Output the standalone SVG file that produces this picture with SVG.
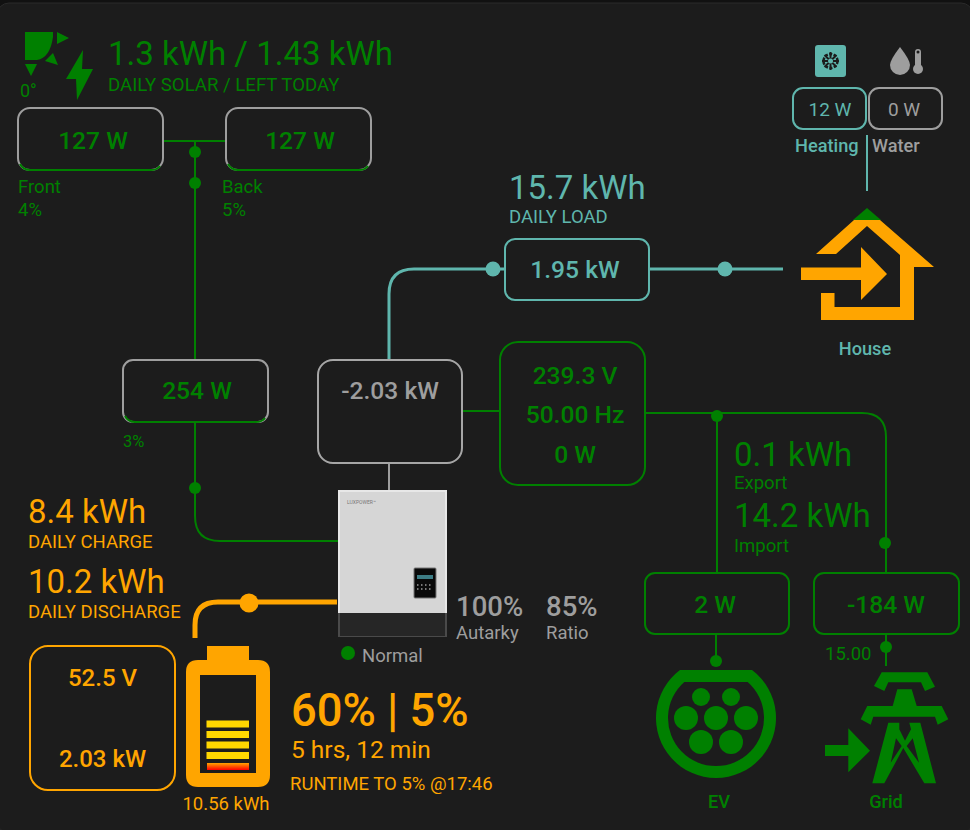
<svg xmlns="http://www.w3.org/2000/svg" width="970" height="830" viewBox="0 0 970 830">
<style>
text{font-family:Roboto,"Liberation Sans",sans-serif}
.g{fill:#008000}.o{fill:#ffa500}.t{fill:#5fb6ad}.y{fill:#9e9e9e}
.box{fill:none;stroke-width:2}
.lg{fill:none;stroke:#008000;stroke-width:2}
.lo{fill:none;stroke:#ffa500;stroke-width:5}
.lt{fill:none;stroke:#5fb6ad;stroke-width:3}
.mid{text-anchor:middle}
.bar{fill:#ffd700}
.v{font-size:24.600px;font-weight:500}
</style>
<defs><linearGradient id="red" x1="0" y1="0" x2="0" y2="1"><stop offset="0" stop-color="#ffa500"/><stop offset="1" stop-color="#ff0000"/></linearGradient></defs>
<rect width="970" height="830" fill="#111"/>
<rect x="-3" y="3" width="976" height="830" rx="12" fill="#1c1c1c" stroke="#2a2a2a"/>
<g id="connectors">
<path class="lg" d="M163 141H226M195 141V360M195 422V516Q195 541 220 541H338M463 411H500M645 413H862Q886 413 886 437V572M717 413V572M716 634V662M886 634V666"/>
<path d="M389 359V294Q389 269 414 269H505M649 269H783" class="lt"/>
<path d="M867 135V191" fill="none" stroke="#5fb6ad" stroke-width="2"/>
<path d="M389 463V490" fill="none" stroke="#9e9e9e" stroke-width="2"/>
<path class="lo" d="M337 602H218Q195 602 195 625V638"/>
<circle class="g" cx="195" cy="152" r="6"/><circle class="g" cx="195" cy="183" r="6"/><circle class="g" cx="195" cy="488" r="6"/>
<circle class="g" cx="717" cy="416" r="6"/><circle class="g" cx="885" cy="543" r="6"/><circle class="g" cx="716" cy="661" r="6"/><circle class="g" cx="886" cy="647" r="6"/>
<circle class="t" cx="493" cy="269" r="7.500"/><circle class="t" cx="725" cy="269" r="7.500"/>
<circle class="o" cx="249" cy="603" r="9.500"/>
</g>
<g id="solar-summary">
<path class="g" d="M25 32H53V37Q50 58 37 60H25Z"/>
<path class="g" d="M57 32L69 38L57 44ZM53 53L58 65L45 61ZM25 64H37L31 76Z"/>
<path class="g" d="M83 50L66 79H76L77 100L93 69H82Z"/>
<text class="g" x="20" y="97" font-size="18">0°</text>
<text class="g" x="108" y="65" font-size="33">1.3 kWh / 1.43 kWh</text>
<text class="g" x="108" y="91" font-size="18.600">DAILY SOLAR / LEFT TODAY</text>
</g>
<g id="pv-front">
<rect class="box" stroke="#9e9e9e" x="18" y="108" width="145" height="62" rx="12"/>
<path class="lg" d="M20 164Q23 170 30 170H151Q157 170 160 166"/>
<text class="g mid v" x="93" y="149">127 W</text>
<text class="g" x="18" y="193" font-size="18.500">Front</text><text class="g" x="18" y="216" font-size="18.500">4%</text>
</g>
<g id="pv-back">
<rect class="box" stroke="#9e9e9e" x="226" y="108" width="145" height="62" rx="12"/>
<path class="lg" d="M228 164Q231 170 238 170H359Q365 170 368 166"/>
<text class="g mid v" x="300" y="149">127 W</text>
<text class="g" x="222" y="193" font-size="18.500">Back</text><text class="g" x="222" y="216" font-size="18.500">5%</text>
</g>
<g id="pv-total">
<rect class="box" stroke="#9e9e9e" x="123" y="360" width="145" height="62" rx="10"/>
<path class="lg" d="M125 416Q128 422 135 422H256Q262 422 265 418"/>
<text class="g mid v" x="197" y="399">254 W</text>
<text class="g" x="123" y="447" font-size="16.500">3%</text>
</g>
<g id="daily-load">
<text class="t" x="509" y="199" font-size="33">15.7 kWh</text>
<text class="t" x="509" y="223" font-size="18.500">DAILY LOAD</text>
</g>
<g id="load-box">
<rect class="box" stroke="#5fb6ad" x="505" y="239" width="144" height="61" rx="10"/>
<text class="t mid v" x="575" y="278">1.95 kW</text>
</g>
<g id="heating">
<rect class="t" x="815" y="45" width="31" height="32" rx="3"/>
<circle fill="none" stroke="#1c1c1c" stroke-width="2.500" stroke-dasharray="3 1.500" cx="830.500" cy="61" r="7"/>
<path stroke="#1c1c1c" stroke-width="2" d="M830.500 52V70M822 61H839M824.500 55L836.500 67M836.500 55L824.500 67"/>
<circle class="t" cx="830.500" cy="61" r="2.500"/>
<rect class="box" stroke="#5fb6ad" x="793" y="88" width="73" height="41" rx="10"/>
<text class="t mid" x="830" y="116" font-size="19">12 W</text>
<text class="t" x="795" y="152" font-size="18.200" font-weight="500">Heating</text>
</g>
<g id="water">
<path class="y" d="M900 47Q890 60 890 65A10 10 0 0 0 910 65Q910 60 900 47Z"/>
<rect class="y" x="915" y="49" width="6" height="24" rx="3"/><circle class="y" cx="918" cy="69" r="5"/>
<circle fill="#1c1c1c" cx="918" cy="52" r="1.500"/>
<rect class="box" stroke="#9e9e9e" x="869" y="88" width="73" height="41" rx="10"/>
<text class="y mid" x="904" y="116" font-size="19">0 W</text>
<text class="y" x="872" y="152" font-size="18.200" font-weight="500">Water</text>
</g>
<g id="house">
<path class="o" d="M816 254L854 220H880L934 267H914V320H821V293H834.500V307H900V255L867 226L836 254Z"/>
<path class="g" d="M853 220L867 208L881 220Z"/>
<path class="o" d="M801 267.500H861V247L887 274L861 300V280H801Z"/>
<text class="t mid" x="865" y="355" font-size="18.200" font-weight="500">House</text>
</g>
<g id="inverter-box">
<rect class="box" stroke="#a6a6a6" x="318" y="360" width="144" height="103" rx="15"/>
<text class="y mid v" x="390" y="399">-2.03 kW</text>
</g>
<g id="grid-box">
<rect class="box" stroke="#008000" x="500" y="342" width="145" height="143" rx="18"/>
<text class="g mid v" x="575" y="384">239.3 V</text>
<text class="g mid v" x="575" y="423">50.00 Hz</text>
<text class="g mid v" x="575" y="463">0 W</text>
</g>
<g id="grid-stats">
<text class="g" x="734" y="466" font-size="33">0.1 kWh</text>
<text class="g" x="734" y="489" font-size="18.500">Export</text>
<text class="g" x="734" y="527" font-size="33">14.2 kWh</text>
<text class="g" x="734" y="552" font-size="18.500">Import</text>
</g>
<g id="inverter">
<rect x="338" y="490" width="109" height="147" fill="#4a4a4a"/>
<rect x="340" y="612" width="105" height="24" fill="#262626"/>
<rect x="338" y="490" width="109" height="123" fill="#d6d6d6"/>
<rect x="338" y="490" width="109" height="2" fill="#e8e8e8"/><rect x="338" y="490" width="2" height="123" fill="#e8e8e8"/><rect x="445" y="490" width="2" height="123" fill="#e8e8e8"/>
<text x="347" y="504" font-size="5" fill="#777">LUXPOWER™</text>
<rect x="414" y="568" width="22" height="30" rx="1" fill="#0a0a0a" stroke="#777"/>
<rect x="417" y="575" width="16" height="4" fill="#3d7d85"/>
<path d="M417 585H433M417 589H433" stroke="#777" stroke-width="2" stroke-dasharray="1.500 2.500"/>
<circle class="g" cx="348" cy="653" r="7"/>
<text class="y" x="362" y="662" font-size="18.500">Normal</text>
</g>
<g id="autarky">
<text class="y" x="456" y="616" font-size="27.500" font-weight="500">100%</text>
<text class="y" x="456" y="639" font-size="18.500">Autarky</text>
<text class="y" x="546" y="616" font-size="27.500" font-weight="500">85%</text>
<text class="y" x="546" y="639" font-size="18.500">Ratio</text>
</g>
<g id="battery-stats">
<text class="o" x="28" y="523" font-size="33">8.4 kWh</text>
<text class="o" x="28" y="548" font-size="18.500">DAILY CHARGE</text>
<text class="o" x="28" y="593" font-size="33">10.2 kWh</text>
<text class="o" x="28" y="618" font-size="18.500">DAILY DISCHARGE</text>
</g>
<g id="battery-box">
<rect class="box" stroke="#ffa500" x="30" y="646" width="145" height="144" rx="18"/>
<text class="o mid" x="102.500" y="686" font-size="24" font-weight="500">52.5 V</text>
<text class="o mid" x="102.500" y="767" font-size="24" font-weight="500">2.03 kW</text>
</g>
<g id="battery">
<path class="o" d="M207 646H249V660H258Q270 660 270 672V775Q270 787 258 787H198Q186 787 186 775V672Q186 660 198 660H207Z"/>
<rect x="200" y="675" width="56" height="98" fill="#1c1c1c"/>
<rect class="bar" x="206.500" y="720.500" width="42.500" height="7"/><rect class="bar" x="206.500" y="731" width="42.500" height="7"/><rect class="bar" x="206.500" y="741.500" width="42.500" height="7"/><rect class="bar" x="206.500" y="752" width="42.500" height="7"/>
<rect x="207" y="763" width="42" height="7" fill="url(#red)"/>
<text class="o mid" x="226" y="810" font-size="18.500">10.56 kWh</text>
</g>
<g id="soc">
<text class="o" x="291" y="726" font-size="45.300" font-weight="500">60% | 5%</text>
<text class="o" x="291" y="758" font-size="24.500">5 hrs, 12 min</text>
<text class="o" x="290" y="790" font-size="18.500">RUNTIME TO 5% @17:46</text>
</g>
<g id="ev-box">
<rect class="box" stroke="#008000" x="645" y="573" width="144" height="61" rx="10"/>
<text class="g mid v" x="715" y="613">2 W</text>
</g>
<g id="grid-meter">
<rect class="box" stroke="#008000" x="814" y="573" width="145" height="61" rx="10"/>
<text class="g mid v" x="886" y="613">-184 W</text>
<text class="g" x="825" y="660" font-size="18.500">15.00</text>
</g>
<g id="ev">
<path class="g" fill-rule="evenodd" d="M680 670H752A60 60 0 1 1 680 670ZM684.300 682A48 48 0 1 0 747.700 682Z"/>
<circle class="g" cx="701" cy="697" r="9"/><circle class="g" cx="731" cy="697" r="9"/>
<circle class="g" cx="686" cy="718" r="12"/><circle class="g" cx="716" cy="718" r="12"/><circle class="g" cx="746" cy="718" r="12"/>
<circle class="g" cx="701" cy="742" r="12"/><circle class="g" cx="731" cy="742" r="12"/>
<text class="g mid" x="719" y="808" font-size="18.200" font-weight="500">EV</text>
</g>
<g id="grid-icon">
<path class="g" d="M881.700 672.300H927.300L935 686.700L925 691L921 682.300H888.300L884.300 691L874 686Z"/>
<path class="g" d="M897.300 689.300H911.700L916.700 706H941.700L948.300 719.300L937.700 724.700L935 716.700H873.300L870.700 724.700L860.700 719.300L867.300 706H892.700Z"/>
<path class="g" fill-rule="evenodd" d="M888.300 722.700H899.300V729.300L905 740.700L911 729.300L909.300 722.700H920.300L936 783.300H924.300L903.300 748L884.300 783.300H872.300ZM896 738.300L890.700 762.700L901.700 746ZM912.700 738.300L919 762.700L906.700 746Z"/>
<path class="g" d="M825 745H848.300V728.300L870 750.700L848.300 772.300V756H825Z"/>
<text class="g mid" x="886" y="808" font-size="18.200" font-weight="500">Grid</text>
</g>
</svg>
